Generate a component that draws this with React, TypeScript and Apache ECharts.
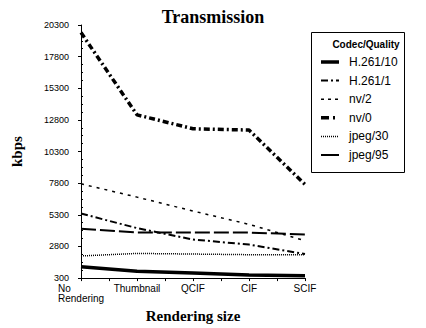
import React, { useEffect, useRef } from "react";
import * as echarts from "echarts";

const categories = ["No Rendering", "Thumbnail", "QCIF", "CIF", "SCIF"];
const seriesNames = ["H.261/10", "H.261/1", "nv/2", "nv/0", "jpeg/30", "jpeg/95"];
const h261_10 = [1200, 850, 700, 550, 480];
const h261_1 = [5400, 4250, 3350, 2950, 2200];
const nv2 = [7750, 6700, 5600, 4550, 3250];
const nv0 = [19700, 13200, 12100, 12000, 7700];
const jpeg30 = [2050, 2250, 2200, 2150, 2150];
const jpeg95 = [4200, 3900, 3900, 3900, 3750];
const yTicks = [300, 2800, 5300, 7800, 10300, 12800, 15300, 17800, 20300];
const yMinorTicks = yTicks.slice(0, -1).flatMap((t) => [t + 625, t + 1250, t + 1875]);
const xMinorTicks = [0.5, 1.5, 2.5, 3.5];

const seriesData = [h261_10, h261_1, nv2, nv0, jpeg30, jpeg95];
const seriesStyles: any[] = [
  { width: 3.5, type: "solid" },
  { width: 2, type: [7, 3, 2, 3] },
  { width: 1.5, type: [3, 5] },
  { width: 3.5, type: [6, 3, 2, 3] },
  { width: 1.5, type: [1, 1] },
  { width: 2, type: [15, 4] },
];
const legendDash: any[] = [null, [7, 3, 2, 3], [3, 4], [8, 4, 2, 4], [1, 1], null];

const sans = "'Liberation Sans', Arial, sans-serif";
const serif = "'Liberation Serif', 'Times New Roman', serif";

export default function App() {
  const ref = useRef<HTMLDivElement>(null);
  useEffect(() => {
    if (!ref.current) return;
    const chart = echarts.init(ref.current, null, { renderer: "svg" });
    const legendItems: any[] = [];
    seriesNames.forEach((name, i) => {
      const y = 62 + i * 18.6;
      legendItems.push({
        type: "line",
        shape: { x1: 321, y1: y, x2: 339, y2: y },
        style: { stroke: "#000", lineWidth: seriesStyles[i].width, lineDash: legendDash[i] },
      });
      legendItems.push({
        type: "text",
        x: 349,
        y,
        style: { text: name, fontFamily: sans, fontSize: 12, fill: "#000", align: "left", verticalAlign: "middle" },
      });
    });
    chart.setOption({
      animation: false,
      backgroundColor: "#fff",
      title: {
        text: "Transmission",
        left: "center",
        top: 3,
        textStyle: { fontFamily: serif, fontSize: 18, fontWeight: "bold", color: "#000" },
      },
      grid: { left: 81, right: 121, top: 25, bottom: 40 },
      graphic: [
        {
          type: "rect",
          shape: { x: 311.5, y: 32.5, width: 93, height: 140 },
          style: { fill: "none", stroke: "#000", lineWidth: 1 },
        },
        {
          type: "text",
          x: 366,
          y: 44,
          style: {
            text: "Codec/Quality",
            fontFamily: sans,
            fontSize: 10,
            fontWeight: "bold",
            fill: "#000",
            align: "center",
            verticalAlign: "middle",
          },
        },
        ...legendItems,
      ],
      xAxis: [
        {
          type: "category",
          data: categories,
          boundaryGap: false,
          position: "bottom",
          name: "Rendering size",
          nameLocation: "middle",
          nameGap: 18,
          nameTextStyle: { fontFamily: serif, fontSize: 15, fontWeight: "bold", color: "#000" },
          axisLine: { lineStyle: { color: "#000", width: 1 } },
          axisTick: { length: 3, alignWithLabel: true, lineStyle: { color: "#000" } },
          axisLabel: {
            interval: 0,
            fontFamily: sans,
            fontSize: 10,
            color: "#000",
            margin: 5,
            lineHeight: 10,
            formatter: (v: string) => (v === "No Rendering" ? "{a|No}\n{a|Rendering}" : v),
            rich: { a: { width: 46, align: "left", fontFamily: sans, fontSize: 10, color: "#000", lineHeight: 10 } },
          },
          splitLine: { show: false },
        },
        {
          type: "value",
          min: 0,
          max: 4,
          position: "bottom",
          axisLine: { show: false },
          axisLabel: { show: false },
          splitLine: { show: false },
          axisTick: { show: true, length: 3, customValues: xMinorTicks, lineStyle: { color: "#000" } },
        },
      ],
      yAxis: [
        {
          type: "value",
          min: 300,
          max: 20300,
          position: "left",
          name: "kbps",
          nameLocation: "middle",
          nameGap: 57,
          nameTextStyle: { fontFamily: serif, fontSize: 15, fontWeight: "bold", color: "#000" },
          axisLine: { show: true, lineStyle: { color: "#000", width: 1 } },
          axisTick: { show: true, length: 3, customValues: yTicks, lineStyle: { color: "#000" } },
          axisLabel: {
            customValues: yTicks,
            formatter: (v: number) => String(v),
            fontFamily: sans,
            fontSize: 9,
            color: "#000",
            margin: 12,
          },
          splitLine: { show: false },
        },
        {
          type: "value",
          min: 300,
          max: 20300,
          position: "left",
          axisLine: { show: false },
          axisLabel: { show: false },
          splitLine: { show: false },
          axisTick: { show: true, inside: true, length: 2, customValues: yMinorTicks, lineStyle: { color: "#000" } },
        },
      ],
      series: seriesNames.map((name, i) => ({
        name,
        type: "line",
        xAxisIndex: 0,
        yAxisIndex: 0,
        data: seriesData[i],
        symbol: "none",
        lineStyle: { color: "#000", ...seriesStyles[i] },
        itemStyle: { color: "#000" },
      })),
    });
    return () => chart.dispose();
  }, []);
  return <div ref={ref} style={{ width: 426, height: 328, position: "absolute", left: 0, top: 0 }} />;
}
